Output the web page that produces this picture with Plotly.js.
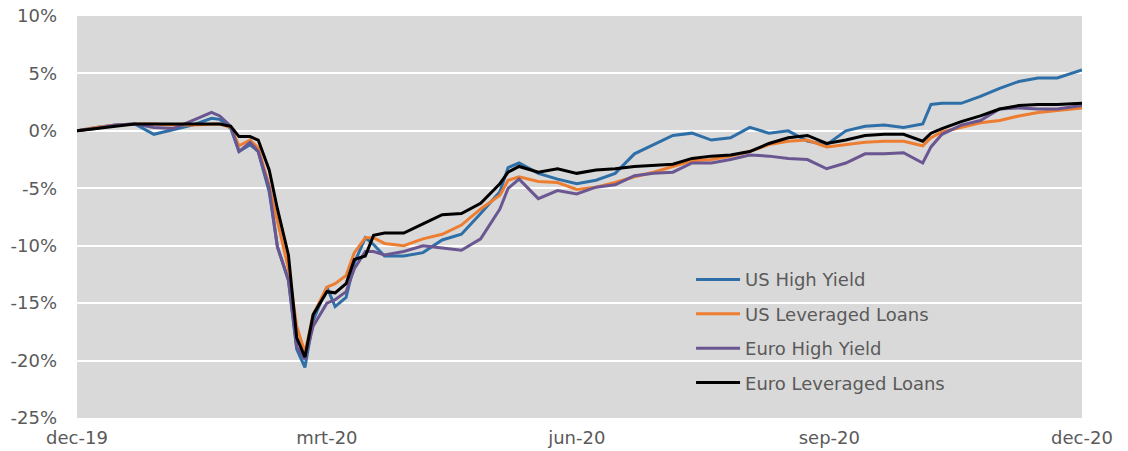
<!DOCTYPE html>
<html>
<head>
<meta charset="utf-8">
<script src="https://cdn.plot.ly/plotly-3.0.1.min.js"></script>
<style>html,body{margin:0;padding:0;background:#fff;}#chart{width:1128px;height:451px;}</style>
</head>
<body>
<div id="chart"></div>
<script>
const dates = ['2019-12-31','2020-01-07','2020-01-14','2020-01-21','2020-01-28','2020-02-04','2020-02-11','2020-02-18','2020-02-21','2020-02-25','2020-02-28','2020-03-03','2020-03-06','2020-03-10','2020-03-13','2020-03-17','2020-03-20','2020-03-23','2020-03-26','2020-03-31','2020-04-03','2020-04-07','2020-04-10','2020-04-14','2020-04-17','2020-04-21','2020-04-28','2020-05-05','2020-05-12','2020-05-19','2020-05-26','2020-06-02','2020-06-05','2020-06-09','2020-06-16','2020-06-23','2020-06-30','2020-07-07','2020-07-14','2020-07-21','2020-07-28','2020-08-04','2020-08-11','2020-08-18','2020-08-25','2020-09-01','2020-09-08','2020-09-15','2020-09-22','2020-09-29','2020-10-06','2020-10-13','2020-10-20','2020-10-27','2020-11-03','2020-11-06','2020-11-10','2020-11-17','2020-11-24','2020-12-01','2020-12-08','2020-12-15','2020-12-22','2020-12-31'];

const usHighYield = [0.0,0.3,0.5,0.6,-0.3,0.1,0.5,1.1,1.0,0.2,-1.8,-1.2,-1.8,-5.3,-10.1,-13.0,-19.0,-20.6,-16.5,-13.6,-15.3,-14.5,-11.5,-9.3,-9.9,-10.9,-10.9,-10.6,-9.5,-9.0,-7.2,-5.3,-3.2,-2.8,-3.7,-4.2,-4.6,-4.3,-3.7,-2.0,-1.2,-0.4,-0.2,-0.8,-0.6,0.3,-0.2,0.0,-0.9,-1.2,0.0,0.4,0.5,0.3,0.6,2.3,2.4,2.4,3.0,3.7,4.3,4.6,4.6,5.3];

const usLevLoans = [0.0,0.3,0.5,0.6,0.6,0.5,0.5,0.6,0.6,0.3,-1.3,-0.8,-1.5,-4.8,-7.8,-12.0,-17.0,-19.3,-16.0,-13.6,-13.3,-12.6,-10.6,-9.3,-9.3,-9.8,-10.0,-9.4,-9.0,-8.2,-6.8,-5.6,-4.3,-4.0,-4.4,-4.5,-5.1,-4.9,-4.5,-4.0,-3.6,-3.1,-2.6,-2.5,-2.2,-1.8,-1.2,-0.9,-0.8,-1.4,-1.2,-1.0,-0.9,-0.9,-1.3,-0.6,-0.1,0.3,0.7,0.9,1.3,1.6,1.8,2.0];

const euroHighYield = [0.0,0.2,0.5,0.6,0.3,0.2,0.9,1.6,1.3,0.4,-1.8,-1.0,-1.8,-5.0,-10.1,-13.0,-18.8,-19.9,-17.0,-15.0,-14.7,-14.0,-12.0,-10.5,-10.5,-10.8,-10.5,-10.0,-10.2,-10.4,-9.4,-6.8,-5.0,-4.2,-5.9,-5.2,-5.5,-4.9,-4.7,-3.9,-3.7,-3.6,-2.8,-2.8,-2.5,-2.1,-2.2,-2.4,-2.5,-3.3,-2.8,-2.0,-2.0,-1.9,-2.8,-1.4,-0.3,0.5,0.9,1.9,2.0,1.9,1.9,2.2];

const euroLevLoans = [0.0,0.2,0.4,0.6,0.6,0.6,0.6,0.6,0.6,0.4,-0.5,-0.5,-0.8,-3.4,-6.8,-10.8,-18.0,-19.7,-16.0,-14.0,-14.1,-13.3,-11.2,-10.9,-9.1,-8.9,-8.9,-8.1,-7.3,-7.2,-6.3,-4.6,-3.6,-3.1,-3.6,-3.3,-3.7,-3.4,-3.3,-3.1,-3.0,-2.9,-2.4,-2.2,-2.1,-1.8,-1.1,-0.6,-0.4,-1.1,-0.8,-0.4,-0.3,-0.3,-0.9,-0.2,0.2,0.8,1.3,1.9,2.2,2.3,2.3,2.4];

const seriesNames = ['US High Yield','US Leveraged Loans','Euro High Yield','Euro Leveraged Loans'];
const seriesColors = ['#2f6fa8','#ed7d31','#6a5690','#000000'];
const seriesValues = [usHighYield, usLevLoans, euroHighYield, euroLevLoans];

const xTickVals = ['2019-12-31','2020-03-31','2020-06-30','2020-09-30','2020-12-31'];
const xTickText = ['dec-19','mrt-20','jun-20','sep-20','dec-20'];
const yTickVals = [10,5,0,-5,-10,-15,-20,-25];
const yTickText = ['10%','5%','0%','-5%','-10%','-15%','-20%','-25%'];

const traces = seriesNames.map((n,i)=>({
  type:'scatter', mode:'lines', name:n, x:dates, y:seriesValues[i],
  line:{color:seriesColors[i], width:3}, legendgroup:'g'+i
}));

const font = {family:'"DejaVu Sans", sans-serif', size:18, color:'#5a5a5a'};

const layout = {
  width:1128, height:451,
  margin:{l:77, r:46, t:16, b:33},
  paper_bgcolor:'#ffffff', plot_bgcolor:'#d9d9d9',
  font: font,
  showlegend:true,
  legend:{x:0.611, y:0.39, xanchor:'left', yanchor:'top', bgcolor:'rgba(0,0,0,0)',
          traceorder:'grouped', tracegroupgap:8, itemwidth:44, font:font},
  xaxis:{type:'date', range:['2019-12-31','2020-12-31'], tickvals:xTickVals, ticktext:xTickText,
         showgrid:false, zeroline:false, showline:false, ticks:'', ticklabelstandoff:7, tickfont:font},
  yaxis:{range:[-25,10], tickvals:yTickVals, ticktext:yTickText, showgrid:true, gridcolor:'#ffffff',
         gridwidth:2, zeroline:false, showline:false, ticks:'', ticklabelstandoff:19, tickfont:font}
};

Plotly.newPlot('chart', traces, layout, {displayModeBar:false, staticPlot:true});
</script>
</body>
</html>
